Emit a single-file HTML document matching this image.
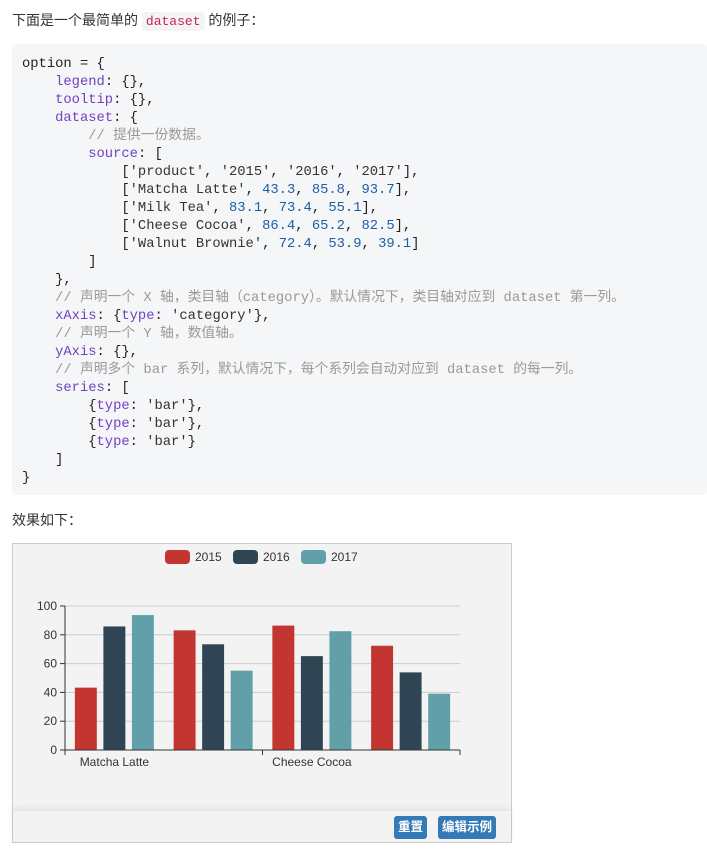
<!DOCTYPE html>
<html><head><meta charset="utf-8">
<style>
body{margin:0;background:#fff;width:707px;height:859px;overflow:hidden;font-family:"Liberation Sans","Noto Sans CJK SC",sans-serif;color:#333;font-size:14px;position:relative}
.p{position:absolute;left:12px;font-size:14px;line-height:20px}
code.i{font-family:"Liberation Mono","Noto Sans CJK SC",monospace;color:#c7254e;background:#f4f4f6;padding:2px 4px;border-radius:3px;font-size:13px}
pre{position:absolute;left:12px;top:44px;width:695px;height:451px;margin:0;background:#f5f6f8;border-radius:4px;box-sizing:border-box;padding:12px 10px;font-family:"Liberation Mono","Noto Sans CJK SC",monospace;font-size:13.8px;line-height:18px;color:#222}
.k{color:#6f42c1}.s{color:#333}.n{color:#1c5fa8}.c{color:#999}
#box{position:absolute;left:12px;top:543px;width:498px;height:298px;border:1px solid #ccc;background:#f3f3f3}
#foot{position:absolute;left:0;top:267px;width:498px;height:31px;background:#f3f3f3;box-shadow:0 -3px 6px rgba(0,0,0,0.07)}
.btn{position:absolute;top:5px;height:23px;line-height:23px;background:#337ab7;color:#fff;font-size:12.5px;font-weight:bold;border-radius:3px;padding:0 3px;text-align:center}
</style></head><body>
<div class="p" style="top:10px">下面是一个最简单的 <code class="i">dataset</code> 的例子：</div>
<pre>option = {
    <span class="k">legend</span>: {},
    <span class="k">tooltip</span>: {},
    <span class="k">dataset</span>: {
        <span class="c">// 提供一份数据。</span>
        <span class="k">source</span>: [
            [<span class="s">'product'</span>, <span class="s">'2015'</span>, <span class="s">'2016'</span>, <span class="s">'2017'</span>],
            [<span class="s">'Matcha Latte'</span>, <span class="n">43.3</span>, <span class="n">85.8</span>, <span class="n">93.7</span>],
            [<span class="s">'Milk Tea'</span>, <span class="n">83.1</span>, <span class="n">73.4</span>, <span class="n">55.1</span>],
            [<span class="s">'Cheese Cocoa'</span>, <span class="n">86.4</span>, <span class="n">65.2</span>, <span class="n">82.5</span>],
            [<span class="s">'Walnut Brownie'</span>, <span class="n">72.4</span>, <span class="n">53.9</span>, <span class="n">39.1</span>]
        ]
    },
    <span class="c">// 声明一个 X 轴，类目轴（category）。默认情况下，类目轴对应到 dataset 第一列。</span>
    <span class="k">xAxis</span>: {<span class="k">type</span>: <span class="s">'category'</span>},
    <span class="c">// 声明一个 Y 轴，数值轴。</span>
    <span class="k">yAxis</span>: {},
    <span class="c">// 声明多个 bar 系列，默认情况下，每个系列会自动对应到 dataset 的每一列。</span>
    <span class="k">series</span>: [
        {<span class="k">type</span>: <span class="s">'bar'</span>},
        {<span class="k">type</span>: <span class="s">'bar'</span>},
        {<span class="k">type</span>: <span class="s">'bar'</span>}
    ]
}</pre>
<div class="p" style="top:510px">效果如下：</div>
<div id="box">
<svg id="chart" width="498" height="267" style="position:absolute;left:0;top:0" font-family="Liberation Sans, sans-serif"></svg>
<div id="foot">
<div class="btn" style="left:381px;width:27px">重置</div>
<div class="btn" style="left:425px;width:52px">编辑示例</div>
</div>
</div>
<script>
const categories=['Matcha Latte','Milk Tea','Cheese Cocoa','Walnut Brownie'];
const seriesNames=['2015','2016','2017'];
const s2015=[43.3,83.1,86.4,72.4];
const s2016=[85.8,73.4,65.2,53.9];
const s2017=[93.7,55.1,82.5,39.1];
const yTicks=[0,20,40,60,80,100];
const colors=['#c23531','#2f4554','#61a0a8'];
const series=[s2015,s2016,s2017];
const svg=document.getElementById('chart');
const NS='http://www.w3.org/2000/svg';
const L=52,R=447,T=62,B=206,yMax=100;
function y(v){return B-(v/yMax)*(B-T);}
const band=(R-L)/categories.length;
function bx(i){return L+i*band;}
function mk(t,a){const e=document.createElementNS(NS,t);for(const k in a)e.setAttribute(k,a[k]);svg.appendChild(e);return e;}
yTicks.forEach(v=>{
  if(v>0){const g=mk('line',{x1:L,x2:R,y1:y(v),y2:y(v),stroke:'#ccc'});
  
  }
  mk('line',{x1:L-5,x2:L,y1:y(v),y2:y(v),stroke:'#333'});
  const t=mk('text',{x:L-8,y:y(v)+4,'text-anchor':'end','font-size':12,fill:'#333'});t.textContent=v;
  
  
});
const bw=band*0.8/3.6,gap=bw*0.3;
series.forEach((d,si)=>{
  d.forEach((v,ci)=>{
    const x=bx(ci)+band*0.1+si*(bw+gap);
    const r=mk('rect',{x:x,y:y(v),width:bw,height:B-y(v),fill:colors[si]});
    
    
  });
});
mk('line',{x1:L,x2:L,y1:T,y2:B,stroke:'#333'});
mk('line',{x1:L,x2:R,y1:B,y2:B,stroke:'#333'});
for(let i=0;i<=categories.length;i+=2){mk('line',{x1:bx(i),x2:bx(i),y1:B,y2:B+5,stroke:'#333'});}
categories.forEach((c,i)=>{
  if(i%2)return;
  const t=mk('text',{x:bx(i)+band/2,y:B+16,'text-anchor':'middle','font-size':12,fill:'#333'});t.textContent=c;
  
  
});
const lx=[152,220,288];
seriesNames.forEach((n,i)=>{
  const r=mk('rect',{x:lx[i],y:6,width:25,height:14,rx:4,fill:colors[i]});
  
  
  const t=mk('text',{x:lx[i]+30,y:17,'font-size':12,fill:'#333'});t.textContent=n;
  
  
});
</script>
</body></html>
